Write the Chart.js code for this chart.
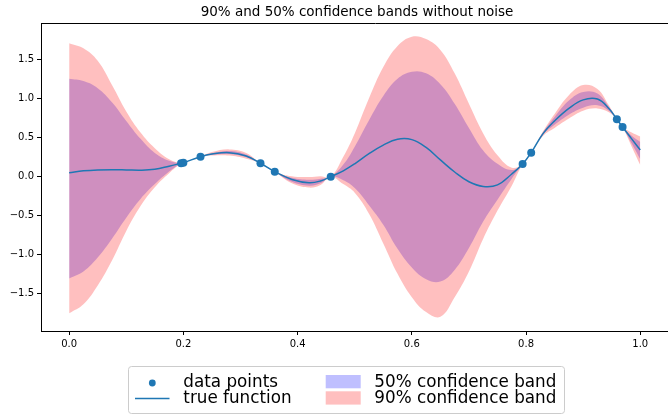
<!DOCTYPE html>
<html>
<head>
<meta charset="utf-8">
<script src="https://cdn.jsdelivr.net/npm/chart.js@4.4.1/dist/chart.umd.min.js"></script>
<style>
    html, body { margin: 0; padding: 0; overflow: hidden; background: #fff; }
    #wrap { width: 714px; height: 416px; }
</style>
</head>
<body>
<div id="wrap"><canvas id="gpChart" width="714" height="416"></canvas></div>
<script>
// x grid of the curves
const xs = [0, 0.025, 0.05, 0.075, 0.1, 0.125, 0.15, 0.175, 0.196, 0.2,
    0.23, 0.25, 0.28, 0.31, 0.335, 0.36, 0.39, 0.42, 0.44, 0.458,
    0.48, 0.5, 0.525, 0.55, 0.575, 0.6, 0.625, 0.65, 0.675, 0.7,
    0.725, 0.75, 0.775, 0.794, 0.809, 0.83, 0.85, 0.875, 0.9, 0.925,
    0.945, 0.959, 0.969, 0.985, 1.0];

// true function
const trueY = [0.046, 0.07, 0.082, 0.085, 0.082, 0.078, 0.09, 0.13, 0.167, 0.174,
    0.251, 0.285, 0.303, 0.26, 0.167, 0.059, -0.04, -0.082, -0.06, -0.005,
    0.07, 0.16, 0.29, 0.40, 0.475, 0.47, 0.37, 0.21, 0.055, -0.07,
    -0.13, -0.11, 0.03, 0.158, 0.303, 0.55, 0.71, 0.87, 0.98, 0.99,
    0.87, 0.731, 0.632, 0.48, 0.337];

// 90% band edges
const upper90 = [1.705, 1.64, 1.48, 1.17, 0.83, 0.56, 0.36, 0.22, 0.167, 0.174,
    0.251, 0.31, 0.345, 0.30, 0.167, 0.059, 0.0, -0.01, 0.0, -0.005,
    0.25, 0.55, 1.0, 1.40, 1.67, 1.79, 1.76, 1.62, 1.32, 0.93,
    0.55, 0.27, 0.11, 0.158, 0.303, 0.58, 0.80, 1.04, 1.17, 1.12,
    0.91, 0.731, 0.632, 0.56, 0.51];
const lower90 = [-1.757, -1.64, -1.40, -1.08, -0.70, -0.38, -0.14, 0.04, 0.167, 0.174,
    0.251, 0.265, 0.265, 0.225, 0.167, 0.059, -0.09, -0.145, -0.11, -0.005,
    -0.10, -0.21, -0.48, -0.86, -1.25, -1.55, -1.74, -1.80, -1.55, -1.22,
    -0.80, -0.44, -0.12, 0.158, 0.303, 0.52, 0.62, 0.74, 0.84, 0.87,
    0.82, 0.731, 0.632, 0.38, 0.145];

// 50% band edges
const upper50 = [1.25, 1.22, 1.13, 0.95, 0.71, 0.48, 0.30, 0.20, 0.167, 0.174,
    0.251, 0.295, 0.325, 0.28, 0.167, 0.059, -0.02, -0.045, -0.03, -0.005,
    0.15, 0.38, 0.72, 1.03, 1.25, 1.34, 1.32, 1.18, 0.93, 0.62,
    0.33, 0.16, 0.08, 0.158, 0.303, 0.565, 0.76, 0.97, 1.08, 1.06,
    0.89, 0.731, 0.632, 0.52, 0.44];
const lower50 = [-1.31, -1.22, -1.04, -0.80, -0.53, -0.29, -0.10, 0.06, 0.167, 0.174,
    0.251, 0.275, 0.285, 0.245, 0.167, 0.059, -0.07, -0.12, -0.09, -0.005,
    -0.05, -0.15, -0.37, -0.62, -0.93, -1.17, -1.32, -1.35, -1.20, -0.92,
    -0.58, -0.30, -0.03, 0.158, 0.303, 0.535, 0.66, 0.79, 0.88, 0.91,
    0.84, 0.731, 0.632, 0.42, 0.22];

// observed points
const pointX = [0.196, 0.2, 0.23, 0.335, 0.36, 0.458, 0.794, 0.809, 0.959, 0.969];
const pointY = [0.167, 0.174, 0.251, 0.167, 0.059, -0.005, 0.158, 0.303, 0.731, 0.632];

const xTicks = [0.0, 0.2, 0.4, 0.6, 0.8, 1.0];
const yTicks = [-1.5, -1.0, -0.5, 0.0, 0.5, 1.0, 1.5];

const titleText = "90% and 50% confidence bands without noise";
const FONT = "'DejaVu Sans', sans-serif";
const BLUE = "#1f77b4";

function toXY(ys) {
    return xs.map((x, i) => ({ x: x, y: ys[i] }));
}

function fmtTick(v) {
    const s = Math.abs(v).toFixed(1);
    return v < 0 ? "\u2212" + s : s;
}

// matplotlib style legend box under the axes
const boxLegend = {
    id: "boxLegend",
    afterDraw(chart) {
        const ctx = chart.ctx;
        ctx.save();
        ctx.beginPath();
        ctx.roundRect(128.5, 366.5, 436, 47, 3);
        ctx.fillStyle = "rgba(255,255,255,0.8)";
        ctx.fill();
        ctx.strokeStyle = "#cccccc";
        ctx.lineWidth = 1;
        ctx.stroke();

        ctx.fillStyle = BLUE;
        ctx.beginPath();
        ctx.arc(152.3, 383, 3.4, 0, Math.PI * 2);
        ctx.fill();

        ctx.strokeStyle = BLUE;
        ctx.lineWidth = 1.5;
        ctx.beginPath();
        ctx.moveTo(135, 398.5);
        ctx.lineTo(169.5, 398.5);
        ctx.stroke();

        ctx.fillStyle = "rgba(0,0,255,0.25)";
        ctx.fillRect(325.7, 375, 35, 13.3);
        ctx.fillStyle = "rgba(255,0,0,0.25)";
        ctx.fillRect(325.7, 391.3, 35, 13.3);

        const ds = chart.data.datasets;
        ctx.fillStyle = "#000";
        ctx.font = "16.8px " + FONT;
        ctx.textBaseline = "alphabetic";
        ctx.fillText(ds[5].label, 183.3, 387.3);
        ctx.fillText(ds[4].label, 183.3, 403.3);
        ctx.fillText(ds[1].label, 374.3, 387.3);
        ctx.fillText(ds[3].label, 374.3, 403.3);
        ctx.restore();
    }
};

// top spine
const topSpine = {
    id: "topSpine",
    afterDraw(chart) {
        const a = chart.chartArea;
        const ctx = chart.ctx;
        ctx.save();
        ctx.strokeStyle = "#000";
        ctx.lineWidth = 1;
        ctx.beginPath();
        ctx.moveTo(a.left, a.top + 0.5);
        ctx.lineTo(a.right, a.top + 0.5);
        ctx.stroke();
        ctx.restore();
    }
};

const bandStyle = {
    type: "line",
    borderColor: "transparent",
    borderWidth: 0,
    pointRadius: 0,
    tension: 0.4
};

const ctx = document.getElementById("gpChart").getContext("2d");
new Chart(ctx, {
    data: {
        datasets: [
            { ...bandStyle, label: "lower 50%", data: toXY(lower50), fill: false, order: 3 },
            { ...bandStyle, label: "50% confidence band", data: toXY(upper50), fill: "-1",
              backgroundColor: "rgba(0,0,255,0.25)", order: 3 },
            { ...bandStyle, label: "lower 90%", data: toXY(lower90), fill: false, order: 2 },
            { ...bandStyle, label: "90% confidence band", data: toXY(upper90), fill: "-1",
              backgroundColor: "rgba(255,0,0,0.25)", order: 2 },
            {
                type: "line",
                label: "true function",
                data: toXY(trueY),
                borderColor: BLUE,
                borderWidth: 1.5,
                pointRadius: 0,
                fill: false,
                tension: 0.4,
                order: 1
            },
            {
                type: "scatter",
                label: "data points",
                data: pointX.map((x, i) => ({ x: x, y: pointY[i] })),
                backgroundColor: BLUE,
                borderWidth: 0,
                pointRadius: 4,
                order: 0
            }
        ]
    },
    options: {
        responsive: false,
        animation: false,
        events: [],
        layout: { padding: 0 },
        plugins: {
            legend: { display: false },
            tooltip: { enabled: false },
            title: {
                display: true,
                text: titleText,
                color: "#000",
                font: { family: FONT, size: 13.5, weight: "normal" },
                padding: { top: 4, bottom: 2.8 }
            }
        },
        scales: {
            x: {
                type: "linear",
                min: -0.0493,
                max: 1.1221,
                afterBuildTicks: s => { s.ticks = xTicks.map(v => ({ value: v })); },
                afterFit: s => { s.height = 85; },
                grid: { display: true, drawOnChartArea: false, drawTicks: true, tickLength: 4, color: "#000" },
                border: { display: true, color: "#000", width: 1 },
                ticks: {
                    color: "#000",
                    font: { family: FONT, size: 10 },
                    padding: 3,
                    maxRotation: 0,
                    autoSkip: false,
                    callback: v => fmtTick(v)
                }
            },
            y: {
                type: "linear",
                min: -1.983,
                max: 1.965,
                afterBuildTicks: s => { s.ticks = yTicks.map(v => ({ value: v })); },
                afterFit: s => { s.width = 41; },
                grid: { display: true, drawOnChartArea: false, drawTicks: true, tickLength: 4, color: "#000" },
                border: { display: true, color: "#000", width: 1 },
                ticks: {
                    color: "#000",
                    font: { family: FONT, size: 10 },
                    padding: 3,
                    autoSkip: false,
                    callback: v => fmtTick(v)
                }
            }
        }
    },
    plugins: [topSpine, boxLegend]
});
</script>
</body>
</html>
